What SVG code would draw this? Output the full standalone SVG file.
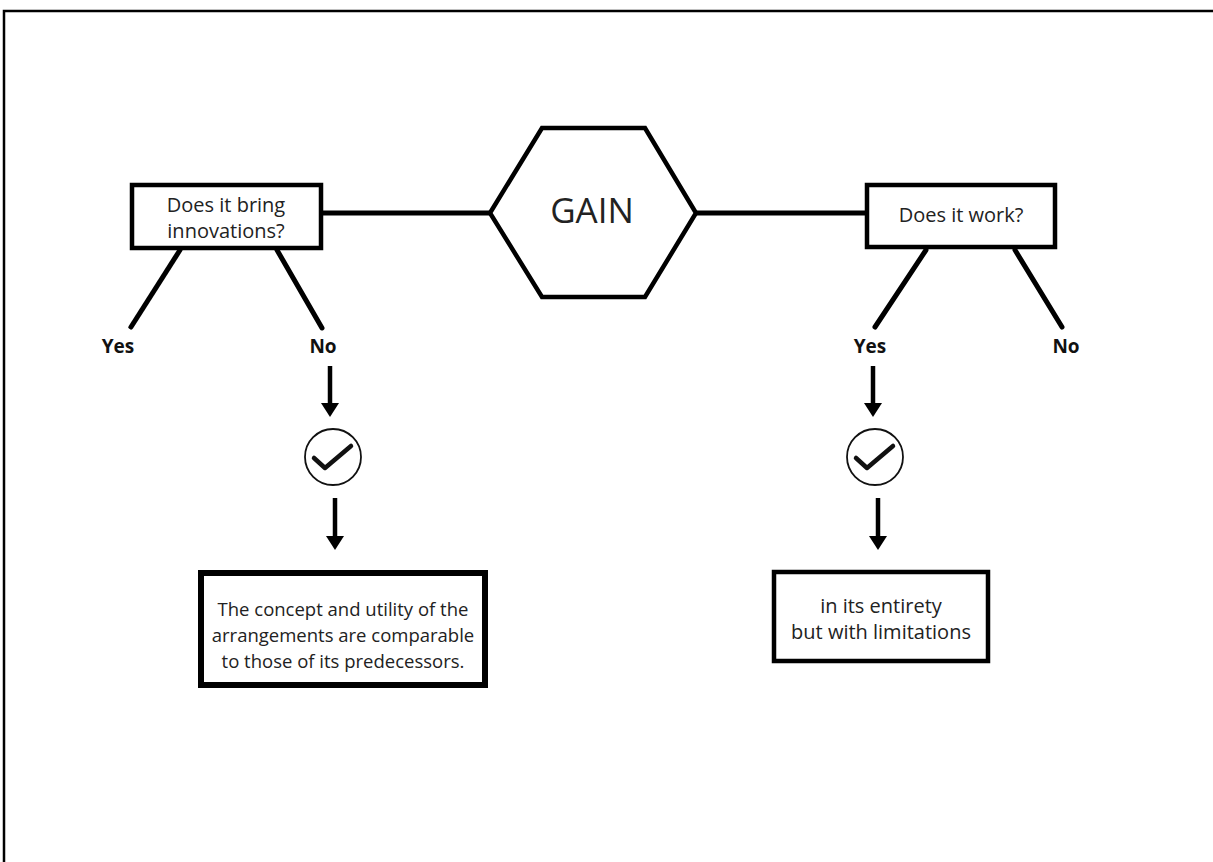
<svg xmlns="http://www.w3.org/2000/svg" width="1213" height="862" viewBox="0 0 1213 862">
<defs>
<style>
.box{fill:#fff;stroke:#000;stroke-width:4.5}
.bigbox{fill:#fff;stroke:#000;stroke-width:6}
.ln{stroke:#000;stroke-width:5;fill:none;stroke-linecap:round}
.hl{stroke:#000;stroke-width:5;fill:none}
.sh{stroke:#000;stroke-width:4.5;fill:none}
.t{font-family:"Open Sans","DejaVu Sans",sans-serif;fill:#222;text-anchor:middle}
.lab{font-family:"Open Sans","DejaVu Sans",sans-serif;font-weight:bold;fill:#111;font-size:19px;text-anchor:middle}
.chk{fill:#fff;stroke:#111;stroke-width:1.8}
.tick{fill:none;stroke:#111;stroke-width:4.5;stroke-linecap:round;stroke-linejoin:round}
</style>
<marker id="ah" viewBox="0 0 10 10" refX="5" refY="10" markerWidth="4" markerHeight="3.2" orient="auto" markerUnits="strokeWidth">
<path d="M0,0 L10,0 L5,10 z" fill="#000"/>
</marker>
</defs>
<rect x="0" y="0" width="1213" height="862" fill="#fff"/>
<path d="M4,862 V11 H1213" fill="none" stroke="#000" stroke-width="2.5"/>

<g id="connectors">
<line class="hl" x1="323" y1="213" x2="490" y2="213"/>
<line class="hl" x1="696" y1="213" x2="865" y2="213"/>
<line class="ln" x1="180" y1="250" x2="131" y2="327"/>
<line class="ln" x1="277" y1="250" x2="322" y2="328"/>
<line class="ln" x1="926" y1="250" x2="875" y2="327"/>
<line class="ln" x1="1015" y1="250" x2="1062" y2="327"/>
<line class="sh" x1="330" y1="366" x2="330" y2="404"/>
<path d="M321,403 L339,403 L330,417 z" fill="#000"/>
<line class="sh" x1="335" y1="498" x2="335" y2="537"/>
<path d="M326,536 L344,536 L335,550 z" fill="#000"/>
<line class="sh" x1="873" y1="366" x2="873" y2="404"/>
<path d="M864,403 L882,403 L873,417 z" fill="#000"/>
<line class="sh" x1="878" y1="498" x2="878" y2="537"/>
<path d="M869,536 L887,536 L878,550 z" fill="#000"/>
</g>

<g id="gain">
<polygon points="490,213 542,128 645,128 696,213 645,297 542,297" fill="#fff" stroke="#000" stroke-width="4.5"/>
<text class="t" x="592" y="223" font-size="35">GAIN</text>
</g>

<g id="q-innovations">
<rect class="box" x="132" y="185" width="189" height="63"/>
<text class="t" x="226" y="212" font-size="20">Does it bring</text>
<text class="t" x="226" y="238" font-size="20">innovations?</text>
</g>

<g id="q-work">
<rect class="box" x="867" y="185" width="188" height="62"/>
<text class="t" x="961" y="222" font-size="20">Does it work?</text>
</g>

<g id="yes-left"><text class="lab" x="118" y="353">Yes</text></g>
<g id="no-left"><text class="lab" x="323" y="353">No</text></g>
<g id="yes-right"><text class="lab" x="870" y="353">Yes</text></g>
<g id="no-right"><text class="lab" x="1066" y="353">No</text></g>

<g id="check-left">
<circle class="chk" cx="333" cy="457" r="28"/>
<polyline class="tick" points="314,458 325,468 351,446"/>
</g>
<g id="check-right">
<circle class="chk" cx="875" cy="457" r="28"/>
<polyline class="tick" points="856,458 867,468 893,446"/>
</g>

<g id="result-left">
<rect class="bigbox" x="201" y="573" width="284" height="112"/>
<text class="t" x="343" y="616" font-size="18.5">The concept and utility of the</text>
<text class="t" x="343" y="642" font-size="18.5">arrangements are comparable</text>
<text class="t" x="343" y="668" font-size="18.5">to those of its predecessors.</text>
</g>

<g id="result-right">
<rect class="box" x="774" y="572" width="214" height="89"/>
<text class="t" x="881" y="613" font-size="20">in its entirety</text>
<text class="t" x="881" y="639" font-size="20">but with limitations</text>
</g>
</svg>
